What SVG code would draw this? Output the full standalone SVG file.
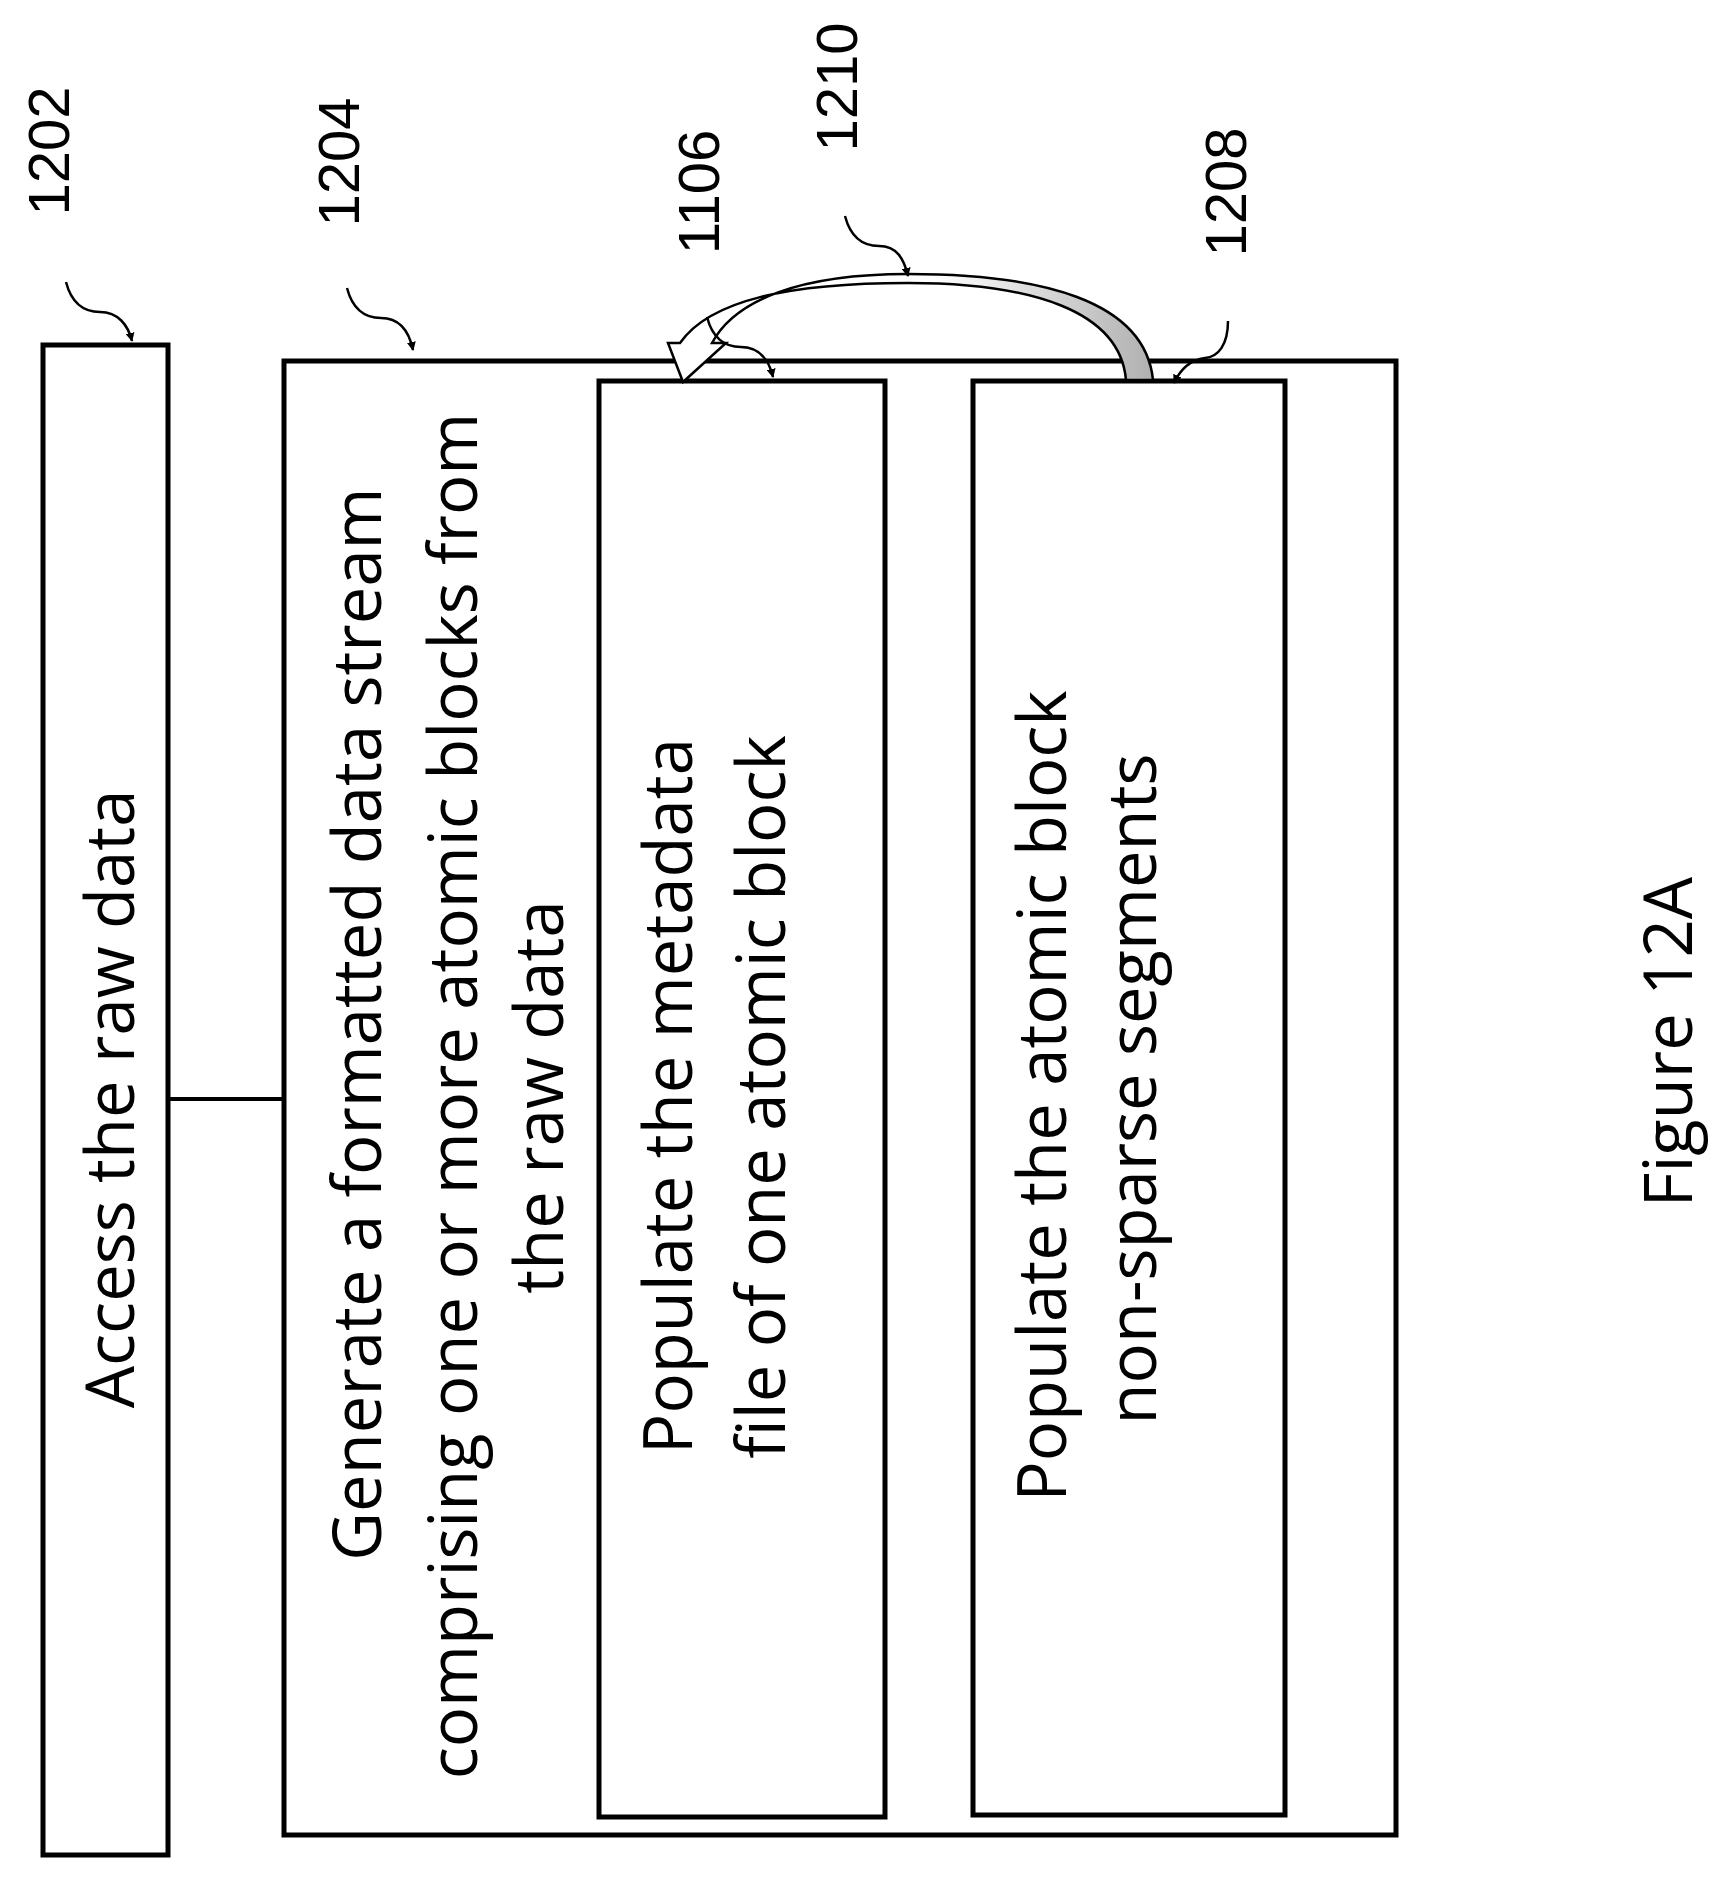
<svg xmlns="http://www.w3.org/2000/svg" width="1725" height="1881" viewBox="0 0 1725 1881">
<style>
.box{fill:#fff;stroke:#000;stroke-width:5}
.t{font-family:"Open Sans","Liberation Sans",sans-serif;font-size:67px;fill:#000;text-anchor:middle}
.n{font-family:"Liberation Sans",sans-serif;font-size:58px;fill:#000;text-anchor:middle}
.lead{fill:none;stroke:#000;stroke-width:2.5}
</style>
<defs>
<marker id="ah" viewBox="0 0 10 10" refX="9" refY="5" markerWidth="9" markerHeight="9" orient="auto" markerUnits="userSpaceOnUse">
<path d="M0,0 L10,5 L0,10 Z" fill="#000"/>
</marker>
<linearGradient id="g" x1="0" y1="0" x2="1" y2="0">
<stop offset="0" stop-color="#fff"/><stop offset="0.55" stop-color="#fff"/><stop offset="1" stop-color="#b0b0b0"/>
</linearGradient>
</defs>
<g id="connectors">
<line x1="168" y1="1099" x2="284" y2="1099" stroke="#000" stroke-width="4"/>
</g>
<g id="n1202"><rect class="box" x="43" y="345" width="125" height="1510"/>
<text class="t" transform="translate(134,1099) rotate(-90)">Access the raw data</text></g>
<g id="n1204"><rect class="box" x="284" y="361" width="1112" height="1474"/>
<text class="t" transform="translate(381,1024) rotate(-90)">Generate a formatted data stream</text>
<text class="t" transform="translate(477,1096) rotate(-90)">comprising one or more atomic blocks from</text>
<text class="t" transform="translate(563,1097) rotate(-90)">the raw data</text></g>
<g id="n1106"><rect class="box" x="599" y="381" width="286" height="1436"/>
<text class="t" transform="translate(692,1096) rotate(-90)">Populate the metadata</text>
<text class="t" transform="translate(785,1097) rotate(-90)">file of one atomic block</text></g>
<g id="n1208"><rect class="box" x="973" y="381" width="312" height="1434"/>
<text class="t" transform="translate(1066,1096) rotate(-90)">Populate the atomic block</text>
<text class="t" transform="translate(1156,1089) rotate(-90)">non-sparse segments</text></g>
<g id="n1210">
<path d="M1153,380 C1145,300 1040,274 908,274 C800,274 735,300 712,343 L726,343 L683,382 L668,343 L680,343 C710,300 790,283 908,283 C1030,283 1120,310 1126,380 Z" fill="url(#g)" stroke="#000" stroke-width="2.5"/>
</g>
<g id="labels">
<text class="n" transform="translate(69,151) rotate(-90)">1202</text>
<text class="n" transform="translate(359,162) rotate(-90)">1204</text>
<text class="n" transform="translate(719,192) rotate(-90)">1106</text>
<text class="n" transform="translate(857,87) rotate(-90)">1210</text>
<text class="n" transform="translate(1246,192) rotate(-90)">1208</text>
<text class="t" transform="translate(1692,1042) rotate(-90)">Figure 12A</text>
<path class="lead" marker-end="url(#ah)" d="M66,282 C72,305 85,312 100,312 C118,312 128,325 132,341"/>
<path class="lead" marker-end="url(#ah)" d="M347,288 C353,311 366,318 381,318 C399,318 409,331 413,350"/>
<path class="lead" marker-end="url(#ah)" d="M707,317 C713,340 726,347 741,347 C759,347 769,360 773,377"/>
<path class="lead" marker-end="url(#ah)" d="M845,216 C851,239 864,246 879,246 C897,246 904,259 908,276"/>
<path class="lead" marker-end="url(#ah)" d="M1228,321 C1228,345 1218,357 1205,358 C1190,360 1180,370 1174,383"/>
</g>
</svg>
